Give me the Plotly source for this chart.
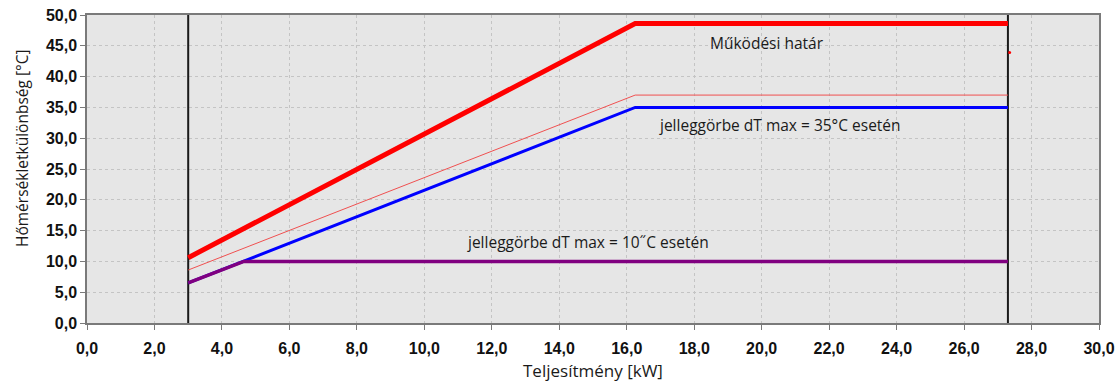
import plotly.graph_objects as go

# Operating envelope and characteristic curves (x: power in kW, y: temperature difference in °C)
limit_x = [3.0, 16.25, 27.3]
limit_y = [10.6, 48.6, 48.6]

thin_x = [3.0, 16.25, 27.3]
thin_y = [8.6, 37.0, 37.0]

dt35_x = [3.0, 16.25, 27.3]
dt35_y = [6.5, 35.0, 35.0]

dt10_x = [3.0, 4.65, 27.3]
dt10_y = [6.5, 10.0, 10.0]

marker_x = [27.35]
marker_y = [43.9]

bounds_x = [3.0, 27.3]

x_ticks = [v * 2 for v in range(16)]
y_ticks = [v * 5 for v in range(11)]


def hu(v):
    return f"{v:.1f}".replace(".", ",")


fig = go.Figure()

for bx in bounds_x:
    fig.add_trace(go.Scatter(x=[bx, bx], y=[0, 50], mode="lines",
                             line=dict(color="#1a1a1a", width=2), hoverinfo="skip"))

fig.add_trace(go.Scatter(x=thin_x, y=thin_y, mode="lines",
                         line=dict(color="#f05050", width=1)))
fig.add_trace(go.Scatter(x=limit_x, y=limit_y, mode="lines",
                         line=dict(color="#ff0000", width=5)))
fig.add_trace(go.Scatter(x=dt35_x, y=dt35_y, mode="lines",
                         line=dict(color="#0000ff", width=3)))
fig.add_trace(go.Scatter(x=dt10_x, y=dt10_y, mode="lines",
                         line=dict(color="#800080", width=3.5)))
fig.add_trace(go.Scatter(x=marker_x, y=marker_y, mode="markers",
                         marker=dict(color="#ff0000", size=3)))

ann_font = dict(family="Open Sans", size=15.5, color="#1a1a1a")
fig.add_annotation(x=18.4, y=45.4, text="Működési határ", showarrow=False,
                   xanchor="left", yanchor="middle", font=ann_font)
fig.add_annotation(x=16.9, y=32.1, text="jelleggörbe dT max = 35°C esetén", showarrow=False,
                   xanchor="left", yanchor="middle", font=ann_font)
fig.add_annotation(x=11.2, y=13.2, text="jelleggörbe dT max = 10˝C esetén", showarrow=False,
                   xanchor="left", yanchor="middle", font=ann_font)

# axis titles drawn as annotations in the margins
fig.add_annotation(xref="paper", yref="paper", x=0, y=0.565, xshift=-65,
                   text="Hőmérsékletkülönbség [°C]", textangle=-90, showarrow=False,
                   xanchor="center", yanchor="middle",
                   font=dict(family="Open Sans", size=15.5, color="#1a1a1a"))
fig.add_annotation(xref="paper", yref="paper", x=0.5, y=0, yshift=-47,
                   text="Teljesítmény [kW]", showarrow=False,
                   xanchor="center", yanchor="middle",
                   font=dict(family="Open Sans", size=17, color="#1a1a1a"))

tick_font = dict(family="Liberation Sans", size=16, color="#111111", weight="bold")
axis_common = dict(showgrid=True, gridcolor="#c4c4c4", griddash="dot", gridwidth=1,
                   showline=True, linecolor="#7a7a7a", linewidth=1.5, mirror=True,
                   ticks="outside", ticklen=5, tickcolor="#7a7a7a",
                   zeroline=False, tickfont=tick_font, automargin=False)

fig.update_xaxes(range=[0, 30], tickvals=x_ticks, ticktext=[hu(v) for v in x_ticks],
                 ticklabelstandoff=5, **axis_common)
fig.update_yaxes(range=[0, 50], tickvals=y_ticks, ticktext=[hu(v) for v in y_ticks],
                 **axis_common)

fig.update_layout(width=1116, height=381, showlegend=False,
                  margin=dict(l=87, r=17, t=15, b=58),
                  plot_bgcolor="#e6e6e6", paper_bgcolor="#ffffff")

fig.write_html("out.html")
